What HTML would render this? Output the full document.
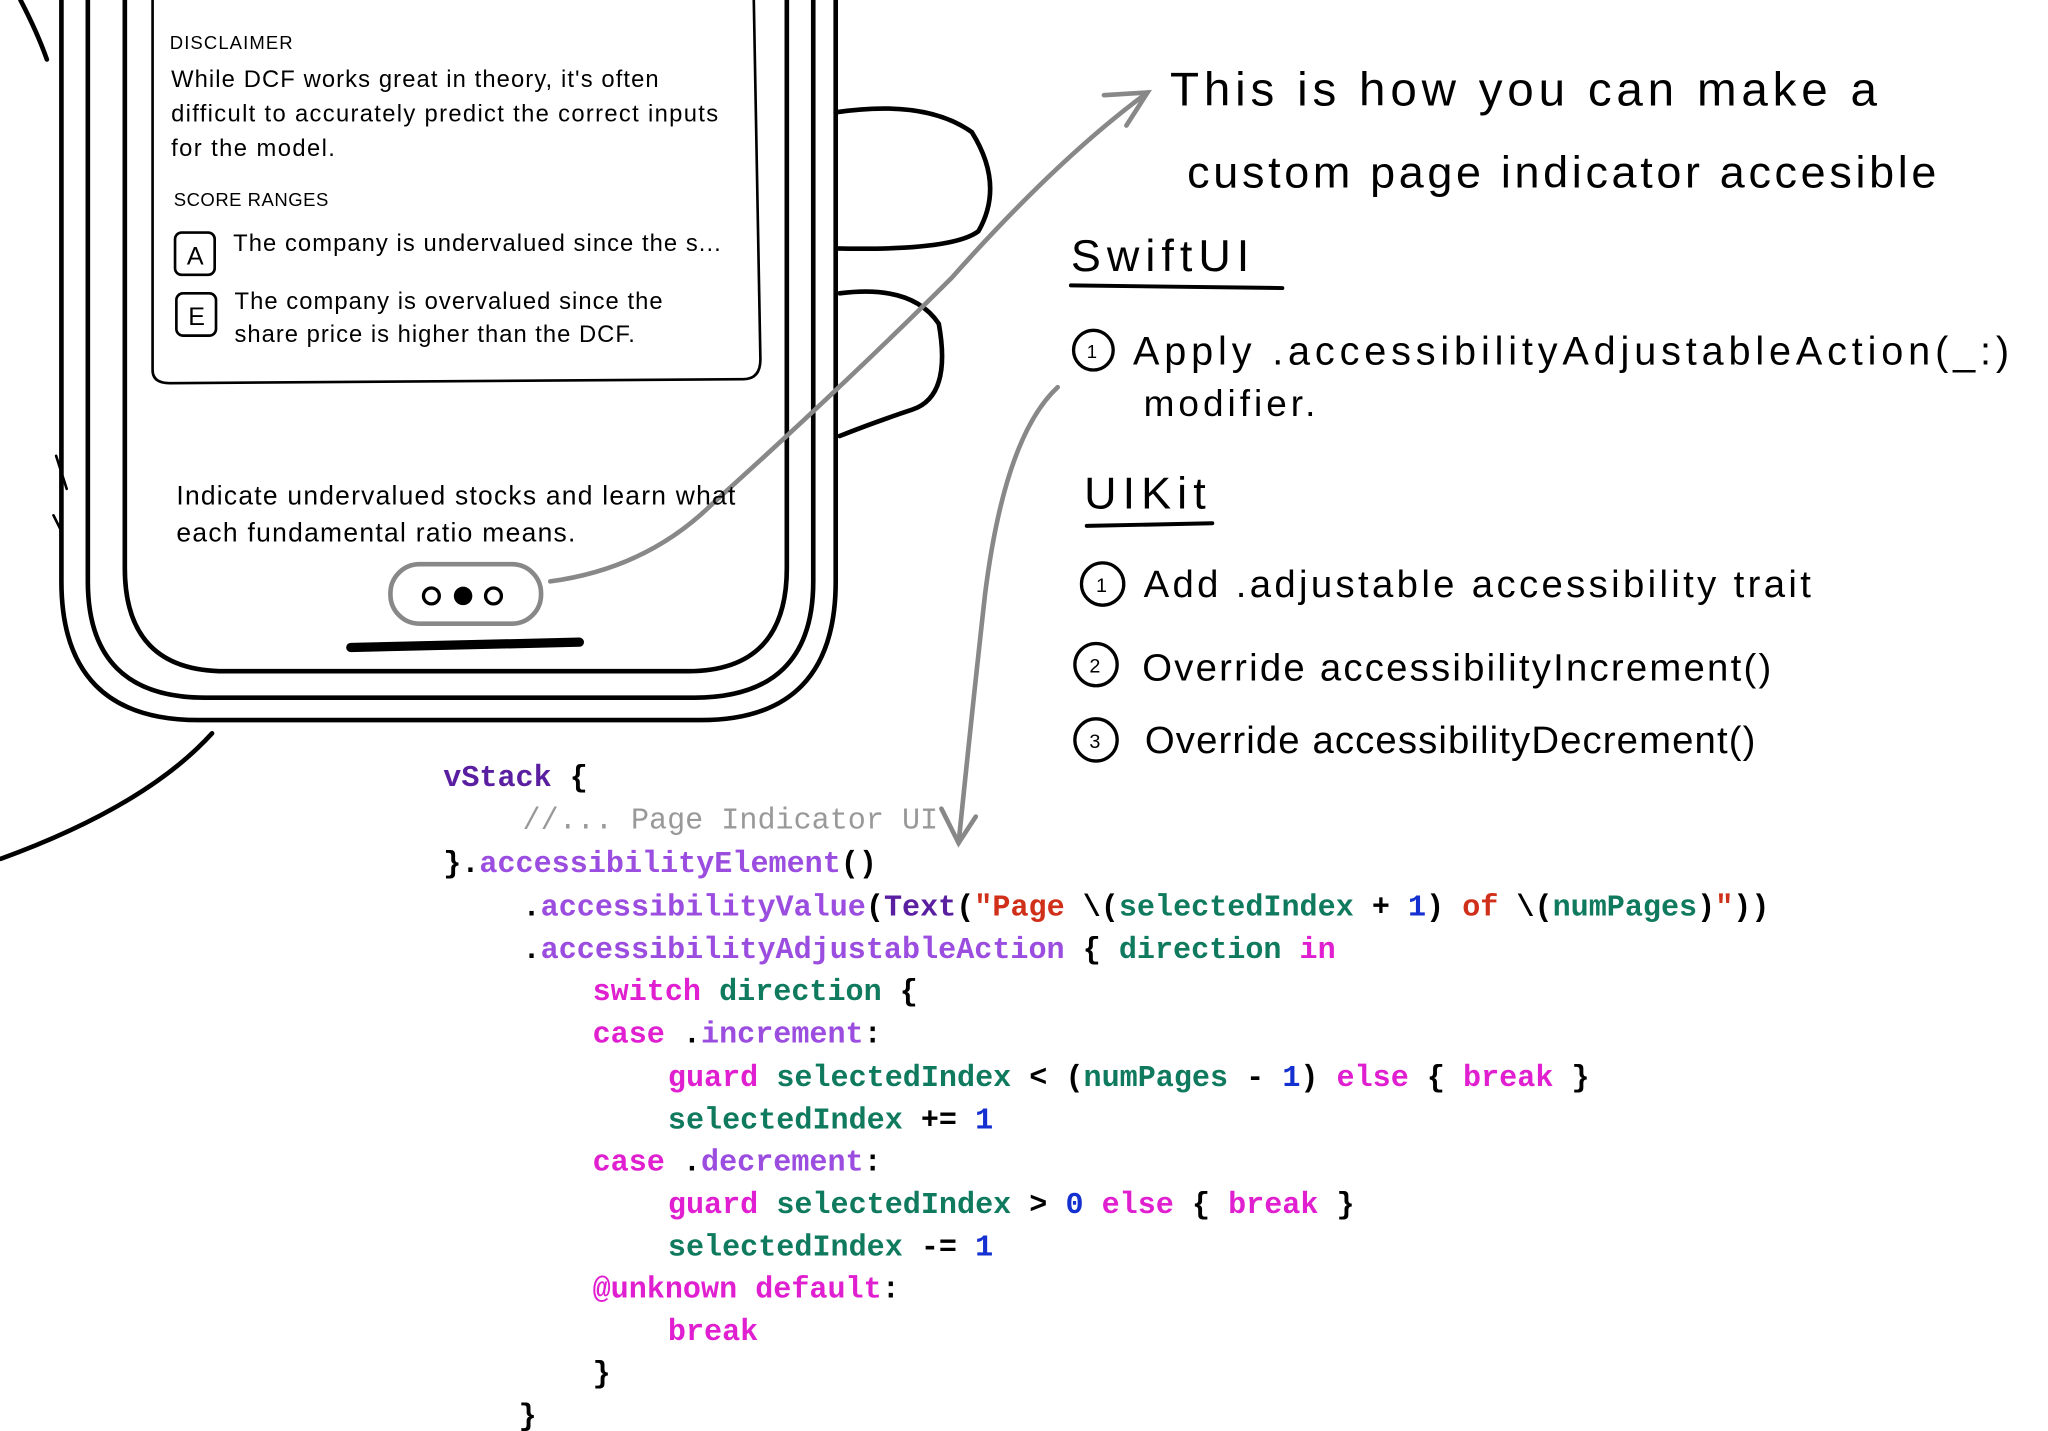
<!DOCTYPE html>
<html><head><meta charset="utf-8"><style>
html,body{margin:0;padding:0;background:#fff;}
svg{display:block}
.h{font-family:"Liberation Sans",sans-serif;}
.c{font-family:"Liberation Mono",monospace;font-weight:bold;font-size:22.8px;}
</style></head><body>
<svg width="2048" height="1431" viewBox="0 0 1549 1083" xmlns="http://www.w3.org/2000/svg">
<g fill="none" stroke="#000" stroke-width="3.5" stroke-linecap="round">
<path d="M46 0 L46 440 Q46 545 150 545 L530 545 Q632 545 632 440 L632 0"/>
<path d="M66 0 L66 440 Q66 528 155 528 L525 528 Q615 528 615 440 L615 0"/>
<path d="M94 0 L94 430 Q94 508 170 508 L520 508 Q595 508 595 430 L595 0"/>
<path d="M115 0 L115 280 Q115 290 128 290 L562 287 Q575 287 575 272 L570 0" stroke-width="2"/>
<path d="M632 85 Q700 75 735 100 Q760 140 740 175 Q720 190 632 188"/>
<path d="M635 222 Q690 215 710 245 Q720 300 690 310 Q660 320 635 330"/>
<path d="M160 555 Q110 610 0 650"/>
<path d="M15 0 Q28 25 35 45"/>
<path d="M42 345 L50 370 M40 390 L45 400" stroke-width="2"/>
<path d="M265 490 L438 486" stroke-width="7"/>
<rect x="132" y="176" width="30" height="32" rx="5" stroke-width="2"/>
<rect x="133" y="222" width="30" height="32" rx="5" stroke-width="2"/>
<path d="M810 216 L970 218" stroke-width="3"/>
<path d="M822 398 L917 396" stroke-width="3"/>
<circle cx="827" cy="265" r="15" stroke-width="2.5"/>
<circle cx="834" cy="442" r="16" stroke-width="2.5"/>
<circle cx="829" cy="503" r="16" stroke-width="2.5"/>
<circle cx="829" cy="560" r="16" stroke-width="2.5"/>
</g>
<rect x="295" y="427" width="114" height="45" rx="22" fill="none" stroke="#888" stroke-width="3.5"/>
<circle cx="326" cy="451" r="6" fill="none" stroke="#000" stroke-width="2.5"/>
<circle cx="350" cy="451" r="7" fill="#000"/>
<circle cx="373" cy="451" r="6" fill="none" stroke="#000" stroke-width="2.5"/>
<g fill="none" stroke="#888" stroke-width="3.5" stroke-linecap="round">
<path d="M416 440 Q490 430 540 380 Q640 290 720 210 Q800 120 868 70"/>
<path d="M835 72 L868 70 L852 95"/>
<path d="M800 293 Q760 330 745 450 Q735 540 725 638"/>
<path d="M712 612 L725 638 L738 618"/>
</g>
<g class="h" fill="#000">
<text x="128" y="37" font-size="14" textLength="93">DISCLAIMER</text>
<text x="129" y="66" font-size="18" textLength="369">While DCF works great in theory, it's often</text>
<text x="129" y="92" font-size="18" textLength="414">difficult to accurately predict the correct inputs</text>
<text x="129" y="118" font-size="18" textLength="124">for the model.</text>
<text x="131" y="156" font-size="14" textLength="117">SCORE RANGES</text>
<text x="141" y="200" font-size="19">A</text>
<text x="176" y="190" font-size="18" textLength="369">The company is undervalued since the s...</text>
<text x="142" y="246" font-size="19">E</text>
<text x="177" y="234" font-size="18" textLength="324">The company is overvalued since the</text>
<text x="177" y="259" font-size="18" textLength="303">share price is higher than the DCF.</text>
<text x="133" y="382" font-size="20" textLength="423">Indicate undervalued stocks and learn what</text>
<text x="133" y="410" font-size="20" textLength="302">each fundamental ratio means.</text>
</g>
<g class="h" fill="#000">
<text x="885" y="80" font-size="36" textLength="535">This is how you can  make  a</text>
<text x="898" y="142" font-size="34" textLength="567">custom page indicator  accesible</text>
<text x="810" y="205" font-size="34" textLength="135">SwiftUI</text>
<text x="822" y="271" font-size="14">1</text>
<text x="857" y="276" font-size="30" textLength="663">Apply  .accessibilityAdjustableAction(_:)</text>
<text x="865" y="315" font-size="28" textLength="130">modifier.</text>
<text x="820" y="385" font-size="34" textLength="92">UIKit</text>
<text x="829" y="448" font-size="15">1</text>
<text x="865" y="452" font-size="29" textLength="505">Add .adjustable  accessibility  trait</text>
<text x="824" y="509" font-size="15">2</text>
<text x="864" y="515" font-size="29" textLength="476">Override  accessibilityIncrement()</text>
<text x="824" y="566" font-size="15">3</text>
<text x="866" y="570" font-size="29" textLength="462">Override  accessibilityDecrement()</text>
</g>
<g class="c">
<text x="335" y="595" fill="#5a1fa0">vStack <tspan fill="#000">{</tspan></text>
<text x="395" y="627" fill="#999" font-weight="normal">//... Page Indicator UI</text>
<text x="335" y="660" fill="#000">}.<tspan fill="#9b4de0">accessibilityElement</tspan>()</text>
<text x="395" y="693" fill="#000">.<tspan fill="#9b4de0">accessibilityValue</tspan>(<tspan fill="#5a1fa0">Text</tspan>(<tspan fill="#d0301a">"Page </tspan>\(<tspan fill="#0f7a5e">selectedIndex</tspan> + <tspan fill="#1530d0">1</tspan>) <tspan fill="#d0301a">of</tspan> \(<tspan fill="#0f7a5e">numPages</tspan>)<tspan fill="#d0301a">"</tspan>))</text>
<text x="395" y="725" fill="#000">.<tspan fill="#9b4de0">accessibilityAdjustableAction</tspan> { <tspan fill="#0f7a5e">direction</tspan> <tspan fill="#e020d0">in</tspan></text>
<text x="448" y="757" fill="#e020d0">switch <tspan fill="#0f7a5e">direction</tspan> <tspan fill="#000">{</tspan></text>
<text x="448" y="789" fill="#e020d0">case <tspan fill="#000">.</tspan><tspan fill="#9b4de0">increment</tspan><tspan fill="#000">:</tspan></text>
<text x="505" y="822" fill="#e020d0">guard <tspan fill="#0f7a5e">selectedIndex</tspan> <tspan fill="#000">&lt; (</tspan><tspan fill="#0f7a5e">numPages</tspan> <tspan fill="#000">-</tspan> <tspan fill="#1530d0">1</tspan><tspan fill="#000">)</tspan> else <tspan fill="#000">{</tspan> break <tspan fill="#000">}</tspan></text>
<text x="505" y="854" fill="#0f7a5e">selectedIndex <tspan fill="#000">+=</tspan> <tspan fill="#1530d0">1</tspan></text>
<text x="448" y="886" fill="#e020d0">case <tspan fill="#000">.</tspan><tspan fill="#9b4de0">decrement</tspan><tspan fill="#000">:</tspan></text>
<text x="505" y="918" fill="#e020d0">guard <tspan fill="#0f7a5e">selectedIndex</tspan> <tspan fill="#000">&gt;</tspan> <tspan fill="#1530d0">0</tspan> else <tspan fill="#000">{</tspan> break <tspan fill="#000">}</tspan></text>
<text x="505" y="950" fill="#0f7a5e">selectedIndex <tspan fill="#000">-=</tspan> <tspan fill="#1530d0">1</tspan></text>
<text x="448" y="982" fill="#e020d0">@unknown default<tspan fill="#000">:</tspan></text>
<text x="505" y="1014" fill="#e020d0">break</text>
<text x="448" y="1046" fill="#000">}</text>
<text x="392" y="1078" fill="#000">}</text>
</g>
</svg>
</body></html>
